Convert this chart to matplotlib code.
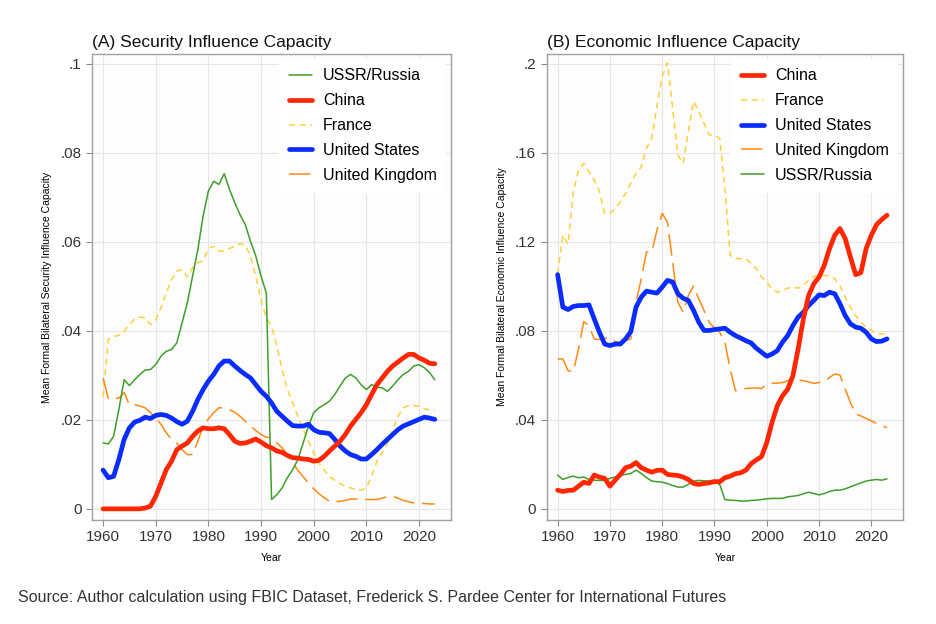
import matplotlib
matplotlib.use("Agg")
import matplotlib.pyplot as plt
import numpy as np

plt.rcParams['font.family'] = ['Liberation Sans', 'DejaVu Sans']

years = list(range(1960, 2024))

# Panel A: Security Influence Capacity
sec_ussr = [.0148, .0146, .0163, .0223, .0290, .0277, .0290, .0302, .0312, .0313,
            .0324, .0343, .0354, .0358, .0373, .0418, .0463, .0523, .0583, .0658,
            .0714, .0736, .0729, .0753, .0718, .0688, .0661, .0639, .0601, .0568,
            .0523, .0485, .0021, .0032, .0047, .0070, .0088, .0111, .0148, .0186,
            .0216, .0227, .0234, .0242, .0257, .0276, .0294, .0302, .0294, .0279,
            .0268, .0279, .0273, .0272, .0264, .0276, .0290, .0302, .0309, .0321,
            .0324, .0317, .0306, .0290]
sec_china = [0, 0, 0, 0, 0, 0, 0, 0, .0002, .0006,
             .0028, .0058, .0088, .0107, .0133, .0141, .0148, .0163, .0175, .0182,
             .0180, .0180, .0182, .0180, .0167, .0152, .0147, .0148, .0152, .0157,
             .0150, .0142, .0137, .0130, .0127, .0120, .0115, .0114, .0112, .0111,
             .0107, .0109, .0118, .0130, .0141, .0152, .0167, .0186, .0201, .0216,
             .0234, .0257, .0279, .0294, .0309, .0321, .0330, .0339, .0347, .0347,
             .0339, .0334, .0327, .0326]
sec_france = [.0252, .0381, .0387, .0390, .0399, .0414, .0427, .0431, .0429, .0414,
              .0425, .0452, .0485, .0515, .0534, .0538, .0521, .0542, .0553, .0557,
              .0585, .0590, .0579, .0579, .0585, .0590, .0596, .0592, .0568, .0523,
              .0470, .0429, .0410, .0366, .0313, .0268, .0238, .0208, .0178, .0152,
              .0126, .0103, .0087, .0073, .0064, .0057, .0051, .0047, .0043, .0042,
              .0047, .0073, .0107, .0126, .0148, .0178, .0208, .0227, .0232, .0232,
              .0231, .0225, .0222, .0221]
sec_us = [.0087, .0070, .0073, .0111, .0156, .0182, .0195, .0199, .0206, .0203,
          .0210, .0212, .0210, .0204, .0196, .0190, .0197, .0219, .0246, .0268,
          .0287, .0302, .0321, .0332, .0332, .0321, .0311, .0302, .0294, .0279,
          .0264, .0253, .0238, .0219, .0208, .0197, .0187, .0186, .0186, .0190,
          .0178, .0172, .0171, .0169, .0156, .0141, .0130, .0122, .0118, .0112,
          .0112, .0122, .0133, .0145, .0156, .0167, .0178, .0186, .0191, .0196,
          .0201, .0206, .0204, .0201]
sec_uk = [.0294, .0247, .0247, .0249, .0261, .0234, .0234, .0231, .0227, .0216,
          .0204, .0190, .0171, .0156, .0148, .0133, .0122, .0122, .0152, .0186,
          .0202, .0216, .0227, .0227, .0223, .0217, .0208, .0197, .0186, .0176,
          .0167, .0161, .0160, .0148, .0137, .0122, .0103, .0087, .0072, .0058,
          .0045, .0034, .0025, .0017, .0016, .0017, .0019, .0022, .0022, .0022,
          .0021, .0021, .0021, .0024, .0027, .0028, .0024, .0019, .0016, .0013,
          .0012, .0012, .0011, .0011]

# Panel B: Economic Influence Capacity
eco_china = [.0084, .0078, .0083, .0084, .0102, .0120, .0114, .0152, .0143, .0137,
             .0102, .0129, .0155, .0185, .0192, .0208, .0185, .0174, .0165, .0173,
             .0174, .0155, .0152, .0150, .0143, .0132, .0114, .0110, .0114, .0117,
             .0123, .0122, .0140, .0147, .0158, .0162, .0174, .0203, .0220, .0235,
             .0298, .0388, .0463, .0508, .0538, .0598, .0719, .0854, .0959, .1012,
             .1042, .1095, .1170, .1230, .1260, .1215, .1132, .1053, .1062, .1170,
             .1230, .1278, .1301, .1320]
eco_france = [.1057, .1230, .1190, .1426, .1523, .1553, .1516, .1478, .1426, .1328,
              .1328, .1350, .1380, .1418, .1463, .1508, .1538, .1621, .1666, .1809,
              .1944, .2005, .1802, .1591, .1553, .1696, .1832, .1787, .1734, .1681,
              .1681, .1666, .1441, .1140, .1125, .1125, .1125, .1102, .1080, .1042,
              .1020, .0989, .0974, .0982, .0992, .0997, .0992, .1005, .1027, .1045,
              .1050, .1050, .1047, .1035, .1002, .0952, .0907, .0869, .0839, .0817,
              .0802, .0787, .0787, .0787]
eco_us = [.1053, .0907, .0896, .0910, .0914, .0914, .0917, .0854, .0794, .0741,
          .0734, .0741, .0741, .0764, .0797, .0907, .0952, .0979, .0974, .0970,
          .0997, .1027, .1020, .0967, .0947, .0937, .0892, .0839, .0802, .0802,
          .0806, .0809, .0812, .0794, .0779, .0768, .0756, .0746, .0722, .0704,
          .0686, .0696, .0711, .0749, .0779, .0824, .0862, .0884, .0914, .0937,
          .0962, .0959, .0974, .0967, .0922, .0869, .0832, .0817, .0812, .0794,
          .0764, .0752, .0754, .0764]
eco_uk = [.0674, .0674, .0621, .0617, .0719, .0842, .0824, .0764, .0761, .0767,
          .0770, .0752, .0749, .0756, .0764, .0929, .1035, .1155, .1155, .1253,
          .1328, .1290, .1110, .0929, .0884, .0959, .1002, .0944, .0892, .0839,
          .0812, .0794, .0749, .0629, .0531, .0535, .0541, .0543, .0543, .0541,
          .0561, .0565, .0565, .0568, .0576, .0586, .0580, .0576, .0571, .0564,
          .0568, .0571, .0591, .0606, .0602, .0538, .0478, .0426, .0418, .0406,
          .0395, .0385, .0373, .0365]
eco_ussr = [.0152, .0132, .0141, .0147, .0140, .0143, .0132, .0129, .0128, .0128,
            .0137, .0143, .0150, .0155, .0159, .0174, .0159, .0140, .0125, .0122,
            .0120, .0114, .0105, .0098, .0098, .0110, .0125, .0128, .0126, .0125,
            .0120, .0110, .0042, .0039, .0038, .0035, .0035, .0038, .0039, .0042,
            .0045, .0047, .0047, .0047, .0054, .0057, .0060, .0068, .0075, .0069,
            .0063, .0069, .0078, .0084, .0084, .0090, .0099, .0108, .0117, .0125,
            .0129, .0132, .0129, .0135]

xticks = [1960, 1970, 1980, 1990, 2000, 2010, 2020]
yticks_a = [0, .02, .04, .06, .08, .1]
yticklabels_a = ["0", ".02", ".04", ".06", ".08", ".1"]
yticks_b = [0, .04, .08, .12, .16, .2]
yticklabels_b = ["0", ".04", ".08", ".12", ".16", ".2"]

GREEN = "#3f9e2a"
RED = "#ff2600"
YELLOW = "#ffcf3a"
BLUE = "#0a2dff"
ORANGE = "#ff8a12"

styles = {
    "USSR/Russia": dict(color=GREEN, lw=1.1, ls="-"),
    "China": dict(color=RED, lw=3.4, ls="-"),
    "France": dict(color=YELLOW, lw=1.1, ls=(0, (4, 3))),
    "United States": dict(color=BLUE, lw=3.4, ls="-"),
    "United Kingdom": dict(color=ORANGE, lw=1.1, ls=(0, (14, 5))),
}

fig = plt.figure(figsize=(9.36, 6.24), dpi=100)
axA = fig.add_axes([0.0983, 0.1667, 0.3837, 0.7468])
axB = fig.add_axes([0.584, 0.1667, 0.381, 0.7468])

def style_axes(ax, yt, ytl, ylim, ylabel, title):
    ax.set_facecolor("#fdfdfd")
    ax.set_xlim(1957.9, 2026.1)
    ax.set_ylim(*ylim)
    ax.set_xticks(xticks)
    ax.set_yticks(yt)
    ax.set_yticklabels(ytl)
    ax.grid(True, color="#e6e6e6", lw=0.8)
    ax.set_axisbelow(True)
    for s in ax.spines.values():
        s.set_color("#a0a0a0")
        s.set_linewidth(1.0)
    ax.tick_params(axis="both", colors="#8a8a8a", labelcolor="#333333",
                   labelsize=11, length=4, width=0.8)
    ax.set_ylabel(ylabel, fontsize=7.5, labelpad=6)
    ax.set_xlabel("Year", fontsize=7.5, labelpad=6)
    ax.set_title(title, loc="left", fontsize=12.5, pad=5, color="#111111")

series_a = [("USSR/Russia", sec_ussr), ("China", sec_china), ("France", sec_france),
            ("United States", sec_us), ("United Kingdom", sec_uk)]
draw_order_a = ["France", "United Kingdom", "USSR/Russia", "United States", "China"]
series_b = [("China", eco_china), ("France", eco_france), ("United States", eco_us),
            ("United Kingdom", eco_uk), ("USSR/Russia", eco_ussr)]
draw_order_b = ["France", "United Kingdom", "USSR/Russia", "United States", "China"]

def draw(ax, series, order):
    handles = {}
    d = dict(series)
    for name in order:
        h, = ax.plot(years, d[name], label=name, solid_capstyle="round", **styles[name])
        handles[name] = h
    hs = [handles[n] for n, _ in series]
    leg = ax.legend(hs, [n for n, _ in series], loc="upper right", fontsize=11.5,
                    frameon=True, fancybox=False, framealpha=1, edgecolor="white",
                    facecolor="white", handlelength=1.45, handletextpad=0.7,
                    labelspacing=0.62, borderpad=0.6, borderaxespad=0.3)
    leg.get_frame().set_linewidth(0)

style_axes(axA, yticks_a, yticklabels_a, (-0.0025, 0.1022),
           "Mean Formal Bilateral Security Influence Capacity",
           "(A) Security Influence Capacity")
draw(axA, series_a, draw_order_a)

style_axes(axB, yticks_b, yticklabels_b, (-0.005, 0.2045),
           "Mean Formal Bilateral Economic Influence Capacity",
           "(B) Economic Influence Capacity")
draw(axB, series_b, draw_order_b)

fig.text(0.019, 0.035, "Source: Author calculation using FBIC Dataset, Frederick S. Pardee Center for International Futures",
         fontsize=11.5, color="#333333")

fig.savefig("out.png", dpi=100, facecolor="white")
